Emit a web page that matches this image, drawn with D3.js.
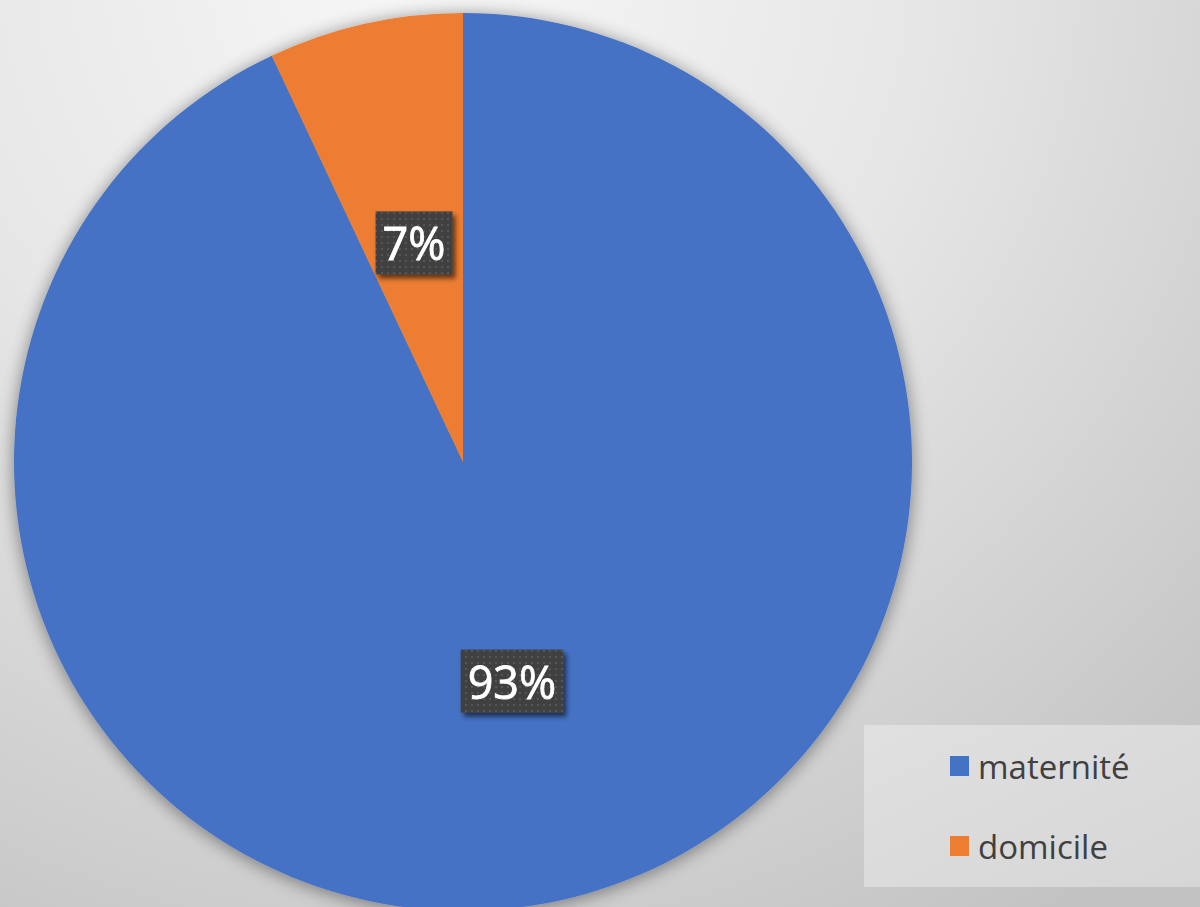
<!DOCTYPE html>
<html>
<head>
<meta charset="utf-8">
<script src="https://cdn.jsdelivr.net/npm/d3@7"></script>
<style>
html,body{margin:0;padding:0;overflow:hidden;}
svg{display:block;}
</style>
</head>
<body>
<script>
const categories = ["maternité", "domicile"];
const values = [93, 7];
const labels = ["93%", "7%"];
const colors = ["#4472C4", "#ED7D31"];

const W = 1200, H = 907;
const svg = d3.select("body").append("svg").attr("width", W).attr("height", H);
const defs = svg.append("defs");

const bg = defs.append("radialGradient").attr("id", "bg")
  .attr("gradientUnits", "userSpaceOnUse")
  .attr("cx", 420).attr("cy", -40).attr("r", 1150);
bg.append("stop").attr("offset", "0").attr("stop-color", "#f7f7f7");
bg.append("stop").attr("offset", "0.45").attr("stop-color", "#e6e6e6");
bg.append("stop").attr("offset", "1").attr("stop-color", "#c2c2c2");

const lg = defs.append("linearGradient").attr("id", "lgbg")
  .attr("x1", "0").attr("y1", "0").attr("x2", "1").attr("y2", "1");
lg.append("stop").attr("offset", "0").attr("stop-color", "#e0e0e0");
lg.append("stop").attr("offset", "1").attr("stop-color", "#d6d6d6");

const sh = defs.append("filter").attr("id", "pieShadow")
  .attr("x", "-20%").attr("y", "-20%").attr("width", "140%").attr("height", "140%");
sh.append("feGaussianBlur").attr("in", "SourceAlpha").attr("stdDeviation", 9).attr("result", "b");
sh.append("feOffset").attr("in", "b").attr("dx", 0).attr("dy", 2).attr("result", "o");
sh.append("feComponentTransfer").attr("in", "o").attr("result", "s")
  .append("feFuncA").attr("type", "linear").attr("slope", 0.45);
const m1 = sh.append("feMerge");
m1.append("feMergeNode").attr("in", "s");
m1.append("feMergeNode").attr("in", "SourceGraphic");

const ls = defs.append("filter").attr("id", "lblShadow")
  .attr("x", "-30%").attr("y", "-30%").attr("width", "160%").attr("height", "160%");
ls.append("feGaussianBlur").attr("in", "SourceAlpha").attr("stdDeviation", 2.5).attr("result", "b");
ls.append("feOffset").attr("in", "b").attr("dx", 3).attr("dy", 4).attr("result", "o");
ls.append("feComponentTransfer").attr("in", "o").attr("result", "s")
  .append("feFuncA").attr("type", "linear").attr("slope", 0.6);
const m2 = ls.append("feMerge");
m2.append("feMergeNode").attr("in", "s");
m2.append("feMergeNode").attr("in", "SourceGraphic");

const pat = defs.append("pattern").attr("id", "dots")
  .attr("patternUnits", "userSpaceOnUse").attr("width", 6).attr("height", 6);
pat.append("rect").attr("width", 6).attr("height", 6).attr("fill", "#404040");
pat.append("rect").attr("x", 2).attr("y", 2).attr("width", 2).attr("height", 2).attr("fill", "#565656");

svg.append("rect").attr("width", W).attr("height", H).attr("fill", "url(#bg)");

const cx = 463, cy = 462, R = 449;
const pie = d3.pie().sort(null).value(d => d)(values);
const arc = d3.arc().innerRadius(0).outerRadius(R);

const g = svg.append("g").attr("transform", `translate(${cx},${cy})`);
g.append("g").attr("filter", "url(#pieShadow)")
  .selectAll("path").data(pie).join("path")
  .attr("d", arc).attr("fill", (d, i) => colors[i]);

const lblG = g.append("g");
pie.forEach((d, i) => {
  const [x, y] = arc.centroid(d);
  const lg1 = lblG.append("g").attr("filter", "url(#lblShadow)");
  const rect = lg1.append("rect").attr("fill", "url(#dots)");
  const t = lg1.append("text")
    .attr("x", x).attr("y", y)
    .attr("text-anchor", "middle").attr("dominant-baseline", "central")
    .attr("font-family", "'Open Sans', sans-serif").attr("font-size", 45)
    .attr("stroke", "#ffffff").attr("stroke-width", 0.8)
    .attr("fill", "#ffffff").text(labels[i]);
  const bb = t.node().getBBox();
  const padX = 7, boxH = 63;
  rect.attr("x", bb.x - padX).attr("y", y - boxH / 2)
    .attr("width", bb.width + 2 * padX).attr("height", boxH);
});

// legend
const leg = svg.append("g");
leg.append("rect").attr("x", 864).attr("y", 725).attr("width", 336).attr("height", 162)
  .attr("fill", "url(#lgbg)");
const legY = [766, 846];
categories.forEach((c, i) => {
  leg.append("rect").attr("x", 950).attr("y", legY[i] - 10).attr("width", 19).attr("height", 20)
    .attr("fill", colors[i]);
  leg.append("text").attr("x", 978).attr("y", legY[i]).attr("dominant-baseline", "central")
    .attr("font-family", "'Open Sans', sans-serif").attr("font-size", 33)
    .attr("fill", "#404040").text(c);
});
</script>
</body>
</html>
